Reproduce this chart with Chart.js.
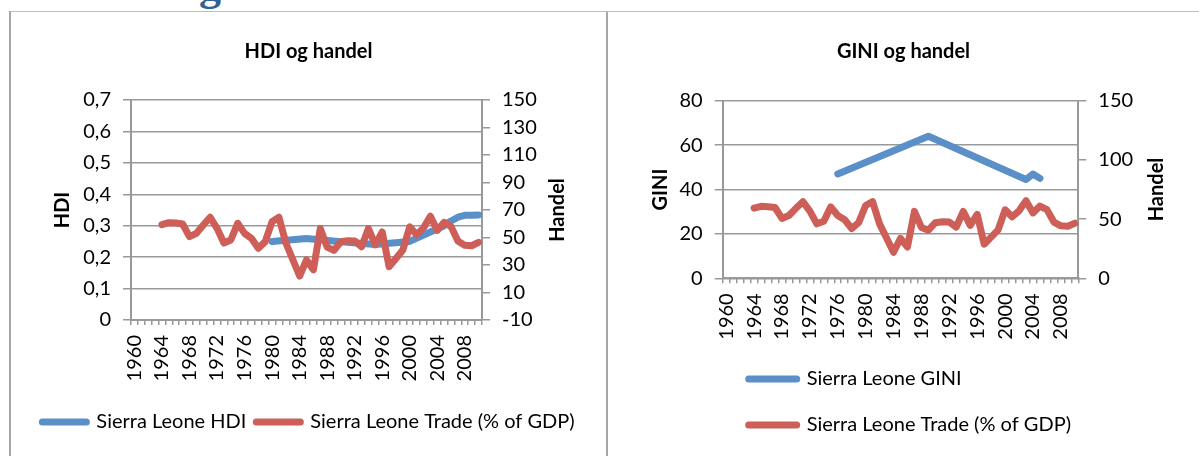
<!DOCTYPE html>
<html>
<head>
<meta charset="utf-8">
<script src="https://cdn.jsdelivr.net/npm/chart.js@4/dist/chart.umd.min.js"></script>
<style>
  html, body { margin: 0; padding: 0; background: #fff; width: 1199px; height: 456px; overflow: hidden; }
  #heading { position: absolute; top: -36px; left: 100px; font: bold 44px "Liberation Serif", serif; color: #365f91; white-space: nowrap; line-height: 44px; }
  .line { position: absolute; background: #a6a6a6; }
  .box { position: absolute; top: 12px; height: 444px; }
</style>
</head>
<body>
<div id="heading"><span id="headPre">Sierra Leone o</span>g handel</div>
<div class="line" style="left:9px; top:11px; width:1190px; height:1px; background:#bdbdbd"></div>
<div class="line" style="left:9px; top:11px; width:2px; height:445px"></div>
<div class="line" style="left:606px; top:12px; width:2px; height:444px"></div>
<div class="box" style="left:11px; width:595px"><canvas id="hdiChart" width="595" height="444"></canvas></div>
<div class="box" style="left:608px; width:591px"><canvas id="giniChart" width="591" height="444"></canvas></div>
<script>
// categories
const years = [1960, 1961, 1962, 1963, 1964, 1965, 1966, 1967, 1968, 1969,
  1970, 1971, 1972, 1973, 1974, 1975, 1976, 1977, 1978, 1979,
  1980, 1981, 1982, 1983, 1984, 1985, 1986, 1987, 1988, 1989,
  1990, 1991, 1992, 1993, 1994, 1995, 1996, 1997, 1998, 1999,
  2000, 2001, 2002, 2003, 2004, 2005, 2006, 2007, 2008, 2009, 2010]

// Sierra Leone Trade (% of GDP), one value per year
const tradeValues = [null, null, null, null, 59.3, 60.8, 60.5, 59.8, 50.6, 53.0,
  59.1, 64.7, 56.7, 46.0, 48.2, 60.3, 53.0, 49.4, 42.1, 47.0,
  61.5, 64.7, 46.0, 34.0, 22.0, 33.7, 26.5, 56.5, 43.0, 40.6,
  47.0, 47.7, 47.5, 43.3, 56.5, 44.7, 54.0, 28.8, 34.8, 40.9,
  57.8, 52.0, 57.0, 65.5, 55.2, 61.0, 58.0, 47.5, 44.3, 44.0, 46.5]

// HDI observations
const hdiYears = [1980, 1985, 1990, 1995, 2000, 2005, 2006, 2007, 2008, 2009, 2010]
const hdiValues = [0.250, 0.259, 0.249, 0.240, 0.250, 0.300, 0.315, 0.327, 0.333, 0.333, 0.334]

// GINI observations
const giniYears = [1976, 1989, 2003, 2004, 2005]
const giniValues = [47, 64, 44.5, 47, 45]

// tick labels
const hdiTicks = [0, 0.1, 0.2, 0.3, 0.4, 0.5, 0.6, 0.7]
const tradeTicksLeft = [-10, 10, 30, 50, 70, 90, 110, 130, 150]
const giniTicks = [0, 20, 40, 60, 80]
const tradeTicksRight = [0, 50, 100, 150]

const BLUE = '#5b8fc8'
const RED = '#cd5f58'
const GRID = '#999999'

// put the cropped heading's "g" where it sits in the picture
const pre = document.getElementById('headPre')
document.getElementById('heading').style.left = (199 - pre.getBoundingClientRect().width) + 'px'

function onYears(obsYears, obsValues) {
  return years.map(y => {
    const i = obsYears.indexOf(y)
    return i < 0 ? null : obsValues[i]
  })
}

function legendLabels(chart) {
  return Chart.defaults.plugins.legend.labels.generateLabels(chart).map(item => Object.assign(item, {
    pointStyle: 'line',
    lineWidth: 7,
    lineCap: 'round',
    strokeStyle: chart.data.datasets[item.datasetIndex].borderColor
  }))
}

// right axis titles read bottom-to-top in the original
const rightTitle = {
  id: 'rightTitle',
  afterDraw(chart, args, opts) {
    const s = chart.scales.y1
    const ctx = chart.ctx
    ctx.save()
    ctx.font = 'bold 20px Lato'
    ctx.fillStyle = '#000'
    ctx.textAlign = 'center'
    ctx.textBaseline = 'middle'
    ctx.translate(s.right - opts.offset, (s.top + s.bottom) / 2)
    ctx.rotate(-Math.PI / 2)
    ctx.fillText(opts.text, 0, 0)
    ctx.restore()
  }
}

function xAxis(height) {
  return {
    type: 'category',
    offset: true,
    afterFit: s => { s.height = height },
    grid: { offset: true, drawOnChartArea: false, drawTicks: true, tickLength: 5, color: GRID, lineWidth: 1.5 },
    border: { color: GRID, width: 2 },
    ticks: {
      autoSkip: false, minRotation: 90, maxRotation: 90, padding: 10, color: '#000',
      callback: (v, i) => years[i] % 4 === 0 ? String(years[i]) : ''
    }
  }
}

function yAxis(ticks, width, title, titlePad, fmt) {
  return {
    position: 'left',
    min: ticks[0], max: ticks[ticks.length - 1], afterFit: s => { s.width = width },
    afterBuildTicks: s => { s.ticks = ticks.map(v => ({ value: v })) },
    grid: { color: GRID, lineWidth: 1.5, tickLength: 8 },
    border: { color: GRID, width: 2 },
    ticks: { padding: 12, color: '#000', callback: fmt },
    title: { display: true, text: title, color: '#000', font: { size: 20, weight: 'bold' }, padding: { top: titlePad, bottom: 0 } }
  }
}

function y1Axis(ticks, width) {
  return {
    position: 'right',
    min: ticks[0], max: ticks[ticks.length - 1], afterFit: s => { s.width = width },
    afterBuildTicks: s => { s.ticks = ticks.map(v => ({ value: v })) },
    grid: { drawOnChartArea: false, color: GRID, lineWidth: 1.5, tickLength: 8 },
    border: { color: GRID, width: 2 },
    ticks: { padding: 12, color: '#000' }
  }
}

function lineSet(label, data, color, order) {
  return {
    label, data, order,
    borderColor: color, backgroundColor: color,
    borderWidth: 7, borderCapStyle: 'round', borderJoinStyle: 'round',
    tension: 0, spanGaps: true, pointRadius: 0, pointHoverRadius: 0,
    yAxisID: label.indexOf('Trade') >= 0 ? 'y1' : 'y'
  }
}

document.fonts.load('20px Lato').then(() => {
  Chart.defaults.font.family = 'Lato'
  Chart.defaults.font.size = 20
  Chart.defaults.color = '#000'
  Chart.defaults.animation = false

  new Chart(document.getElementById('hdiChart'), {
    type: 'line',
    data: {
      labels: years,
      datasets: [
        lineSet('Sierra Leone HDI', onYears(hdiYears, hdiValues), BLUE, 1),
        lineSet('Sierra Leone Trade (% of GDP)', tradeValues, RED, 0)
      ]
    },
    options: {
      responsive: false,
      layout: { padding: { left: 0, right: 0, top: 0, bottom: 14 } },
      scales: {
        x: xAxis(82),
        y: yAxis(hdiTicks, 120, 'HDI', 40, v => v === 0 ? '0' : v.toFixed(1).replace('.', ',')),
        y1: y1Axis(tradeTicksLeft, 124)
      },
      plugins: {
        title: { display: true, text: 'HDI og handel', color: '#000', font: { size: 20, weight: 'bold' }, padding: { top: 28, bottom: 36 } },
        legend: {
          position: 'bottom',
          labels: { usePointStyle: true, pointStyleWidth: 44, padding: 10, color: '#000',
            generateLabels: legendLabels, sort: (a, b) => a.datasetIndex - b.datasetIndex }
        },
        tooltip: { enabled: false },
        rightTitle: { text: 'Handel', offset: 48 }
      }
    },
    plugins: [rightTitle]
  })

  new Chart(document.getElementById('giniChart'), {
    type: 'line',
    data: {
      labels: years,
      datasets: [
        lineSet('Sierra Leone GINI', onYears(giniYears, giniValues), BLUE, 1),
        lineSet('Sierra Leone Trade (% of GDP)', tradeValues, RED, 0)
      ]
    },
    options: {
      responsive: false,
      layout: { padding: { left: 0, right: 0, top: 0, bottom: 11 } },
      scales: {
        x: xAxis(64.7),
        y: yAxis(giniTicks, 114.7, 'GINI', 41),
        y1: y1Axis(tradeTicksRight, 120.7)
      },
      plugins: {
        title: { display: true, text: 'GINI og handel', color: '#000', font: { size: 20, weight: 'bold' }, padding: { top: 28, bottom: 36.7 } },
        legend: {
          position: 'bottom', fullSize: false, align: 'start',
          labels: { usePointStyle: true, pointStyleWidth: 48, padding: 26, color: '#000',
            generateLabels: legendLabels, sort: (a, b) => a.datasetIndex - b.datasetIndex }
        },
        tooltip: { enabled: false },
        rightTitle: { text: 'Handel', offset: 42.2 }
      }
    },
    plugins: [rightTitle]
  })
})
</script>
</body>
</html>
